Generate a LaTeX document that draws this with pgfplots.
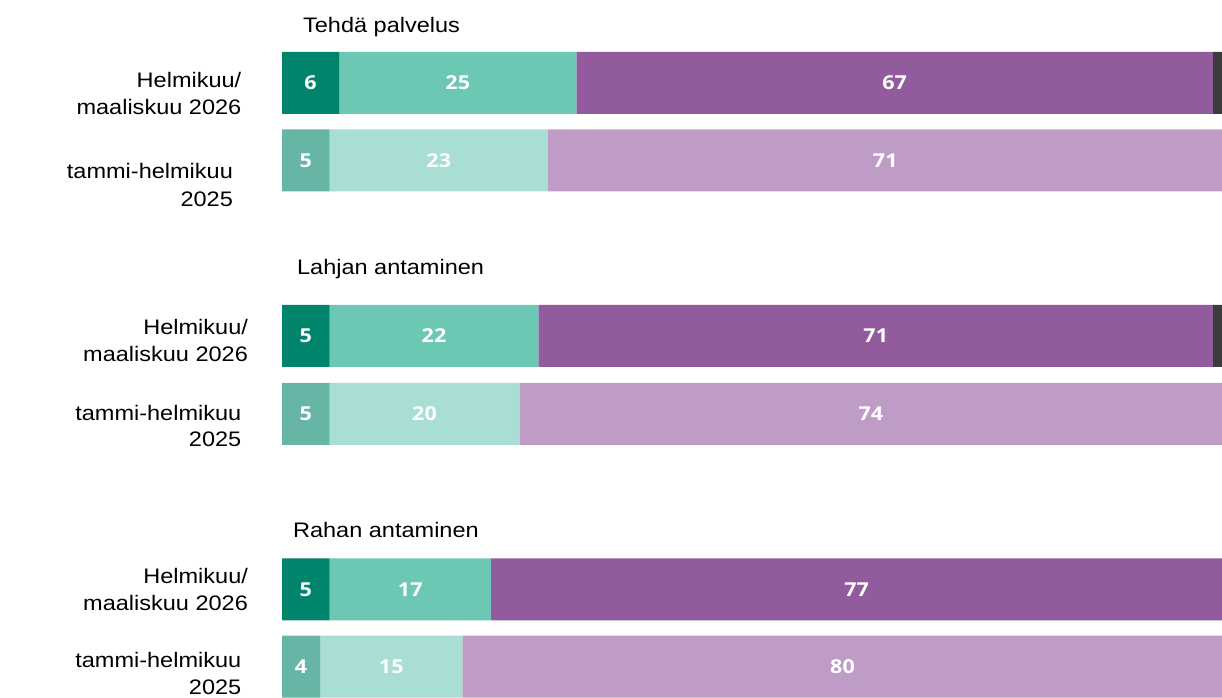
\documentclass[border=0pt]{standalone}
\usepackage{fontspec}
\setmainfont{Liberation Sans}[FakeStretch=1.12]
\newfontfamily\numfont{Open Sans}[FakeStretch=1.12]
\usepackage{pgfplots}
\pgfplotsset{compat=1.18}
\usepackage{pgfplotstable}

\definecolor{grDark}{HTML}{00846B}
\definecolor{grLight}{HTML}{67B5A6}
\definecolor{tqDark}{HTML}{6DC7B5}
\definecolor{tqLight}{HTML}{A9DED5}
\definecolor{puDark}{HTML}{925B9E}
\definecolor{puLight}{HTML}{BF9CC6}
\definecolor{rsDark}{HTML}{3C3C3E}
\definecolor{rsLight}{HTML}{9D9D9E}

% bar centres in px from the top (negative), shares in %
\pgfplotstableread{
y      g  gl  t   tl  p   pl  r  rl
-82.8  6  0   25  0   67  0   2  0
-160.3 0  5   0   23  0   71  0  1
-336   5  0   22  0   71  0   2  0
-414   0  5   0   20  0   74  0  1
-589.3 5  0   17  0   77  0   1  0
-666.5 0  4   0   15  0   80  0  1
}\shares

% label positions = middle of each segment
\pgfplotstableread{
x     y      lab
3     -82.8  6
18.5  -82.8  25
64.5  -82.8  67
2.5   -160.3 5
16.5  -160.3 23
63.5  -160.3 71
2.5   -336   5
16    -336   22
62.5  -336   71
2.5   -414   5
15    -414   20
62    -414   74
2.5   -589.3 5
13.5  -589.3 17
60.5  -589.3 77
2     -666.5 4
11.5  -666.5 15
59    -666.5 80
}\labels

\pgfplotsset{
  frame/.style={
    at={(141pt,0pt)}, anchor=south west,
    scale only axis, width=470pt, height=348.5pt,
    xmin=0, xmax=98.95, ymin=-697, ymax=0,
    hide axis,
  },
}

\begin{document}
\begin{tikzpicture}
\path[use as bounding box] (0,0) rectangle (611pt,348.5pt);

\begin{axis}[frame, xbar stacked, bar width=31pt, clip=true]
  \addplot[fill=grDark,  draw=none] table[x=g,  y=y] {\shares};
  \addplot[fill=grLight, draw=none] table[x=gl, y=y] {\shares};
  \addplot[fill=tqDark,  draw=none] table[x=t,  y=y] {\shares};
  \addplot[fill=tqLight, draw=none] table[x=tl, y=y] {\shares};
  \addplot[fill=puDark,  draw=none] table[x=p,  y=y] {\shares};
  \addplot[fill=puLight, draw=none] table[x=pl, y=y] {\shares};
  \addplot[fill=rsDark,  draw=none] table[x=r,  y=y] {\shares};
  \addplot[fill=rsLight, draw=none] table[x=rl, y=y] {\shares};
\end{axis}

\begin{axis}[frame, clip=false]
  \addplot[draw=none, mark=none, nodes near coords, point meta=explicit symbolic,
    every node near coord/.append style={anchor=center, inner sep=0pt, text=white,
      font=\numfont\bfseries\fontsize{9.6}{11}\selectfont}]
    table[x=x, y=y, meta=lab] {\labels};
\end{axis}

\begin{scope}[x=0.5pt, y=-0.5pt, shift={(0,348.5pt)},
  every node/.style={inner sep=0pt, font=\fontsize{10.5}{12.6}\selectfont}]
  \node[anchor=base west] at (302.7,32.7) {Tehdä palvelus};
  \node[anchor=base west] at (296.7,275) {Lahjan antaminen};
  \node[anchor=base west] at (292.7,537.3) {Rahan antaminen};

  \node[anchor=base east] at (241.7,87.7) {Helmikuu/};
  \node[anchor=base east] at (241.7,115) {maaliskuu 2026};
  \node[anchor=base east] at (233.3,179) {tammi-helmikuu};
  \node[anchor=base east] at (233.3,206.7) {2025};

  \node[anchor=base east] at (248.3,335) {Helmikuu/};
  \node[anchor=base east] at (248.3,361.7) {maaliskuu 2026};
  \node[anchor=base east] at (241.7,421) {tammi-helmikuu};
  \node[anchor=base east] at (241.7,446.7) {2025};

  \node[anchor=base east] at (248.3,583.3) {Helmikuu/};
  \node[anchor=base east] at (248.3,610) {maaliskuu 2026};
  \node[anchor=base east] at (241.7,667.3) {tammi-helmikuu};
  \node[anchor=base east] at (241.7,694.3) {2025};
\end{scope}
\end{tikzpicture}
\end{document}
